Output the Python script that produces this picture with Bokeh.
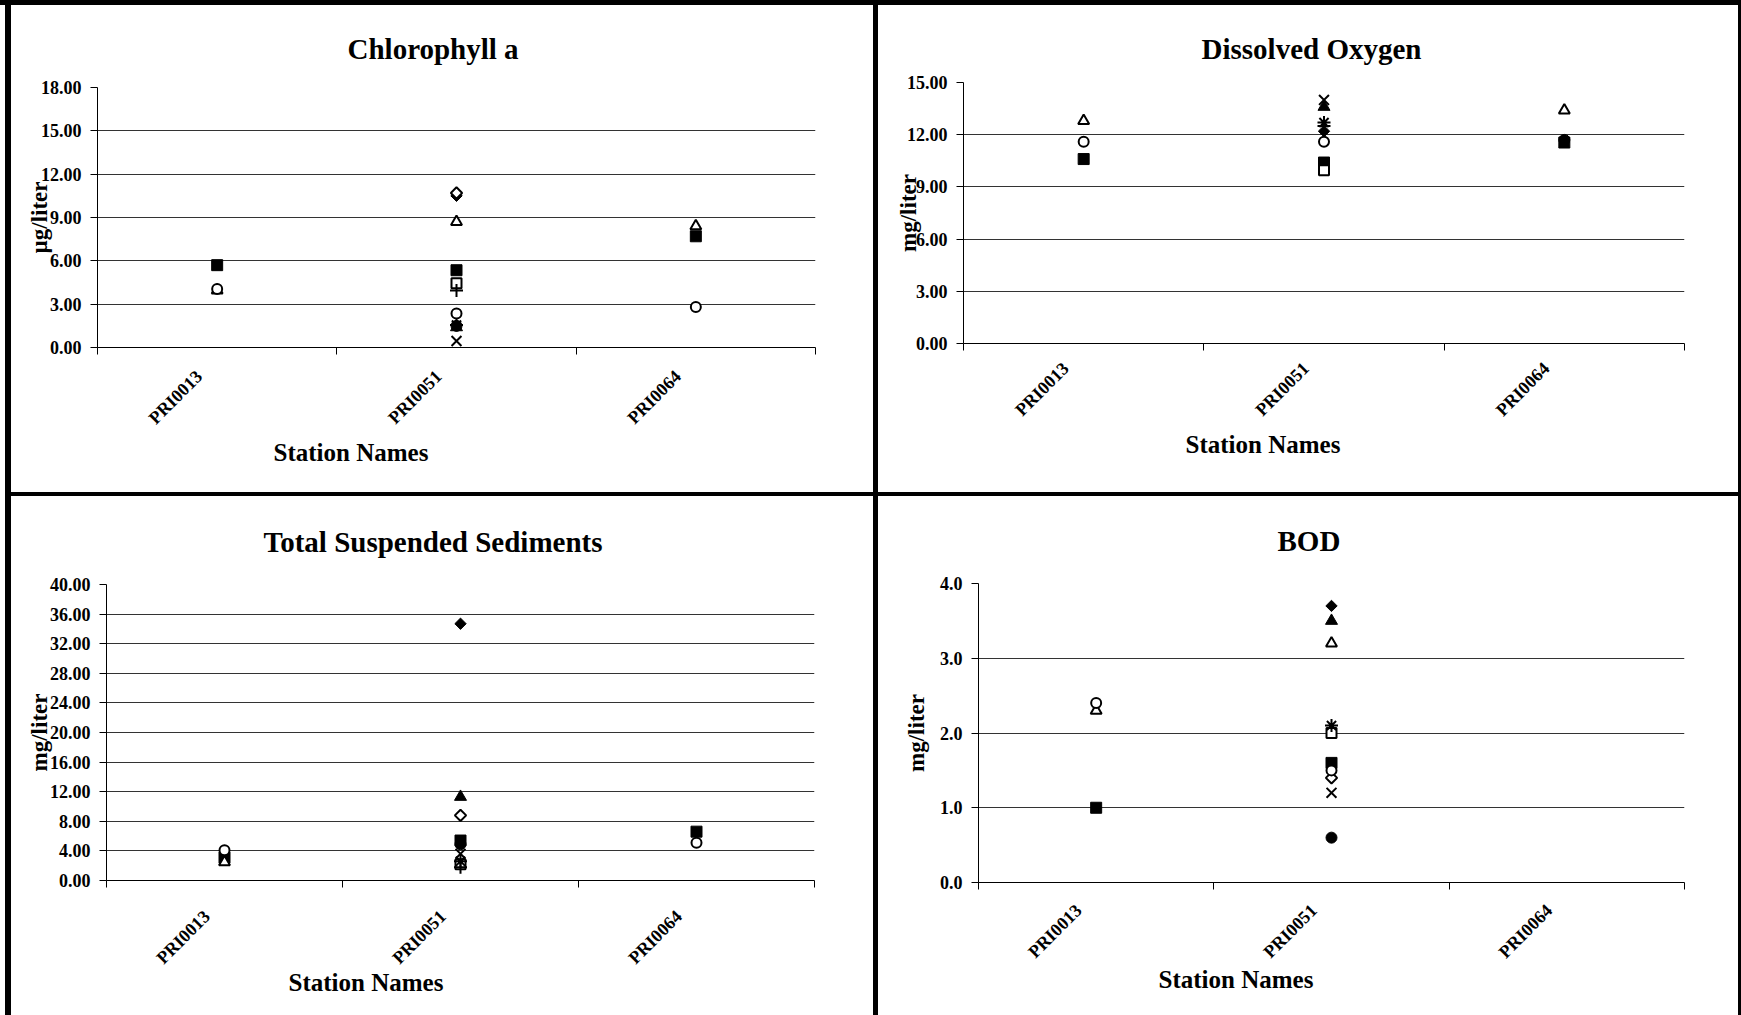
import math
from bokeh.plotting import figure
from bokeh.models import (Range1d, LinearAxis, FixedTicker, NumeralTickFormatter,
                          Title, Grid, Spacer)
from bokeh.layouts import row, column
from bokeh.embed import file_html
from bokeh.resources import INLINE

nan = float("nan")

stations = ["PRI0013", "PRI0051", "PRI0064"]

# ---- Chlorophyll a (µg/liter) ----
chl_ticks = [0, 3, 6, 9, 12, 15, 18]
chl_filled_diamond = [nan, 10.5, nan]
chl_open_diamond = [nan, 10.7, nan]
chl_filled_square = [5.7, 5.35, 7.7]
chl_open_square = [nan, 4.45, nan]
chl_filled_triangle = [nan, 1.4, nan]
chl_open_triangle = [3.95, 8.7, 8.4]
chl_x = [nan, 0.45, nan]
chl_asterisk = [nan, 1.55, nan]
chl_filled_circle = [nan, 1.5, nan]
chl_open_circle = [4.05, 2.35, 2.8]
chl_plus = [nan, 3.95, nan]

# ---- Dissolved Oxygen (mg/liter) ----
do_ticks = [0, 3, 6, 9, 12, 15]
do_filled_diamond = [nan, 12.2, nan]
do_filled_square = [10.6, 10.4, 11.55]
do_open_square = [nan, 9.95, nan]
do_filled_triangle = [nan, 13.6, nan]
do_open_triangle = [12.8, nan, 13.4]
do_x = [nan, 14.0, nan]
do_asterisk = [nan, 12.7, nan]
do_filled_circle = [nan, nan, 11.7]
do_open_circle = [11.6, 11.6, nan]
do_plus = [nan, 12.5, nan]

# ---- Total Suspended Sediments (mg/liter) ----
tss_ticks = [0, 4, 8, 12, 16, 20, 24, 28, 32, 36, 40]
tss_filled_diamond = [nan, 34.7, nan]
tss_open_diamond = [nan, 8.8, nan]
tss_filled_square = [3.1, 5.4, 6.6]
tss_open_square = [nan, 2.2, nan]
tss_filled_triangle = [nan, 11.3, nan]
tss_open_triangle = [2.5, nan, nan]
tss_x = [nan, 3.6, nan]
tss_asterisk = [nan, 2.6, nan]
tss_filled_circle = [nan, 4.9, nan]
tss_open_circle = [4.1, nan, 5.1]
tss_plus = [nan, 1.8, nan]

# ---- BOD (mg/liter) ----
bod_ticks = [0, 1, 2, 3, 4]
bod_filled_diamond = [nan, 3.7, nan]
bod_open_diamond = [nan, 1.4, nan]
bod_filled_square = [1.0, 1.6, nan]
bod_open_square = [nan, 2.0, nan]
bod_filled_triangle = [nan, 3.5, nan]
bod_open_triangle = [2.3, 3.2, nan]
bod_x = [nan, 1.2, nan]
bod_asterisk = [nan, 2.1, nan]
bod_filled_circle = [nan, 0.6, nan]
bod_open_circle = [2.4, 1.5, nan]

# marker styles: (bokeh marker, size, fill, angle)
STYLE = {
    "filled_diamond": ("square", 8, "black", math.pi / 4),
    "open_diamond": ("square", 8, "white", math.pi / 4),
    "filled_square": ("square", 11, "black", 0),
    "open_square": ("square", 10, "white", 0),
    "filled_triangle": ("triangle", 12, "black", 0),
    "open_triangle": ("triangle", 11, "white", 0),
    "x": ("x", 14, None, 0),
    "asterisk": ("asterisk", 13, None, 0),
    "filled_circle": ("circle", 11, "black", 0),
    "open_circle": ("circle", 10, "white", 0),
    "plus": ("cross", 13, None, 0),
}

FONT = "Liberation Serif"


def make_panel(width, height, frame, y_ticks, fmt, series, ylabel, ylab_standoff,
               title, title_offset, title_standoff, xlab_standoff,
               xtitle_offset, xtitle_standoff):
    left, right, top, bottom = frame
    p = figure(width=width, height=height, output_backend="svg",
               toolbar_location=None, title=None,
               x_axis_type=None, y_axis_type=None,
               x_range=Range1d(0, len(stations)),
               y_range=Range1d(y_ticks[0], y_ticks[-1]),
               min_border_left=left, min_border_right=width - right,
               min_border_top=top, min_border_bottom=height - bottom)
    p.frame_align = False
    p.outline_line_color = None
    p.background_fill_color = "white"
    p.border_fill_color = "white"

    centers = [i + 0.5 for i in range(len(stations))]
    label_pos = [c - 0.075 for c in centers]
    xaxis = LinearAxis(
        ticker=FixedTicker(ticks=label_pos, minor_ticks=list(range(len(stations) + 1))),
        major_label_overrides={c: s for c, s in zip(label_pos, stations)},
        major_label_orientation=math.pi / 4,
        major_tick_line_color=None,
        minor_tick_out=7, minor_tick_in=0, minor_tick_line_color="black",
        axis_line_color="black", axis_line_width=1,
        major_label_text_font=FONT, major_label_text_font_style="bold",
        major_label_text_font_size="18px", major_label_text_color="black",
        major_label_standoff=xlab_standoff)
    p.add_layout(xaxis, "below")

    yaxis = LinearAxis(
        ticker=FixedTicker(ticks=y_ticks, minor_ticks=[]),
        formatter=NumeralTickFormatter(format=fmt),
        major_tick_out=7, major_tick_in=0, major_tick_line_color="black",
        axis_line_color="black",
        major_label_text_font=FONT, major_label_text_font_style="bold",
        major_label_text_font_size="18px", major_label_text_color="black",
        major_label_standoff=9,
        axis_label=ylabel, axis_label_standoff=ylab_standoff,
        axis_label_text_font=FONT, axis_label_text_font_style="bold",
        axis_label_text_font_size="23px", axis_label_text_color="black")
    p.add_layout(yaxis, "left")

    p.add_layout(Grid(dimension=1, ticker=FixedTicker(ticks=y_ticks),
                      grid_line_color="#333333", grid_line_width=1))

    for name, vals in series.items():
        marker, size, fill, angle = STYLE[name]
        xs = [c for c, v in zip(centers, vals) if v == v]
        ys = [v for v in vals if v == v]
        if not ys:
            continue
        if fill is None:
            p.scatter(xs, ys, marker=marker, size=size, line_color="black",
                      line_width=2)
        else:
            p.scatter(xs, ys, marker=marker, size=size, fill_color=fill, angle=angle,
                      line_color="black", line_width=2 if fill == "white" else 1)

    p.add_layout(Title(text=title, align="left", offset=title_offset,
                       standoff=title_standoff, text_font=FONT,
                       text_font_style="bold", text_font_size="29px",
                       text_color="black"), "above")
    p.add_layout(Title(text="Station Names", align="left", offset=xtitle_offset,
                       standoff=xtitle_standoff, text_font=FONT,
                       text_font_style="bold", text_font_size="25px",
                       text_color="black"), "below")
    return p


def pack(prefix):
    g = globals()
    return {name: g[f"{prefix}_{name}"] for name in STYLE if f"{prefix}_{name}" in g}


def bar(w, h, color="black"):
    return Spacer(width=w, height=h, styles={"background-color": color})


W1, W2, H1, H2 = 862, 860, 487, 519

p1 = make_panel(W1, H1, (86, 804, 82, 342), chl_ticks, "0.00", pack("chl"),
                "µg/liter", -14, "Chlorophyll a", 250, 45, 19, 176, -4)
p2 = make_panel(W2, H1, (85, 806, 77, 338), do_ticks, "0.00", pack("do"),
                "mg/liter", -17, "Dissolved Oxygen", 238, 36, 15, 222, -4)
p3 = make_panel(W1, H2, (95, 803, 88, 384), tss_ticks, "0.00", pack("tss"),
                "mg/liter", -5, "Total Suspended Sediments", 157, 53, 26, 182, -24)
p4 = make_panel(W2, H2, (100, 806, 86, 386), bod_ticks, "0.0", pack("bod"),
                "mg/liter", 8, "BOD", 299, 53, 18, 180, -17)

inner_w = W1 + 5 + W2 + 3
grid = column(row(p1, bar(5, H1), p2, bar(3, H1)),
              bar(inner_w, 4),
              row(p3, bar(5, H2), p4, bar(3, H2)))
body_h = H1 + 4 + H2
layout = column(bar(5 + 6 + inner_w, 5),
                row(bar(5, body_h, "white"), bar(6, body_h), grid))
open("out.html", "w").write(file_html(layout, INLINE))
